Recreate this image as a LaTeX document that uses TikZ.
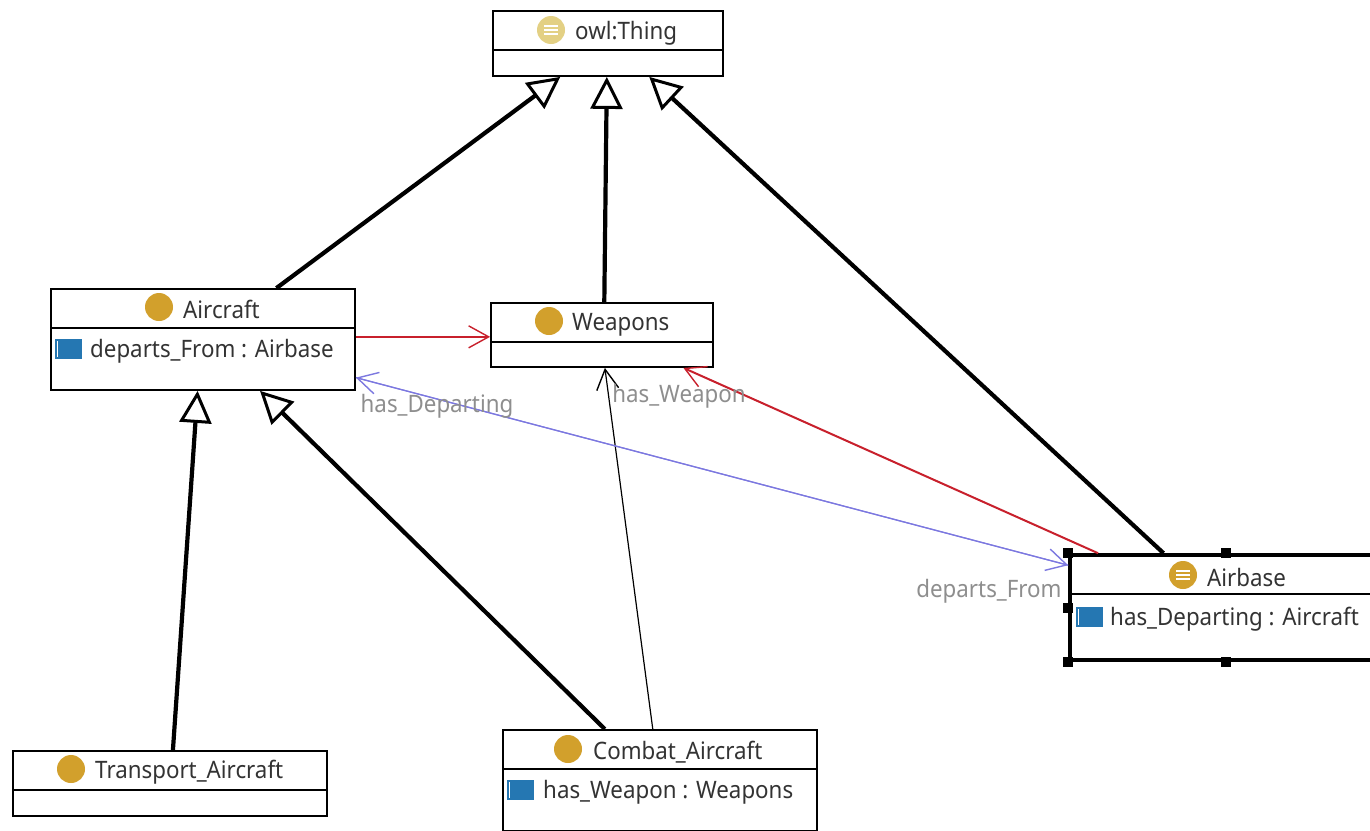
\documentclass[tikz,border=0pt]{standalone}
\usepackage{fontspec}
\usepackage{xcolor}
\setmainfont[FakeStretch=0.93]{Noto Sans}
\usetikzlibrary{positioning,calc,arrows.meta}

\definecolor{icongold}{HTML}{D2A02C}
\definecolor{iconpale}{HTML}{E3D084}
\definecolor{attrblue}{HTML}{2577B2}
\definecolor{labelgray}{HTML}{8E8E8E}
\definecolor{linkred}{HTML}{C8202C}
\definecolor{linkblue}{HTML}{7C78E0}

\tikzset{
    classbox/.style={draw, line width=1.8pt, fill=white, inner sep=0pt},
    titletext/.style={anchor=west, inner sep=0pt, font=\fontsize{24}{28}\selectfont, text=black!80},
    attrtext/.style={anchor=west, inner sep=0pt, font=\fontsize{24}{28}\selectfont, text=black!80},
    linklabel/.style={inner sep=0pt, font=\fontsize{24}{28}\selectfont, text=labelgray},
    classicon/.style={circle, fill=icongold, minimum size=28pt, inner sep=0pt},
    attricon/.style={fill=attrblue, minimum width=27pt, minimum height=20pt, inner sep=0pt},
    handle/.style={fill=black, minimum size=10pt, inner sep=0pt},
    isa/.style={line width=4.2pt, -{Triangle[open, fill=white, length=32pt, width=32pt, line width=3pt]}},
    relation/.style={-{Straight Barb[length=20pt, width=22pt, line width=1.4pt]}}
}

\begin{document}
\begin{tikzpicture}[x=1pt, y=-1pt]
    \useasboundingbox (0,0) rectangle (1370,830);
    \clip (0,0) rectangle (1370,830);
    \fill[white] (0,0) rectangle (1370,830);

    % Classes
    \node[classbox, minimum width=230pt, minimum height=65pt] (thing) at (608,43.5) {};
    \node[classbox, minimum width=304pt, minimum height=101pt] (aircraft) at (203,339.5) {};
    \node[classbox, minimum width=222pt, minimum height=64pt] (weapons) at (602,335) {};
    \node[classbox, line width=3.6pt, minimum width=312pt, minimum height=105pt] (airbase) at (1226,607.5) {};
    \node[classbox, minimum width=314pt, minimum height=65pt] (transport) at (170,783.5) {};
    \node[classbox, minimum width=314pt, minimum height=101pt] (combat) at (660,780.5) {};

    % Compartments
    \draw[line width=1.8pt] ($(thing.north west)+(0,39.5)$) -- ($(thing.north east)+(0,39.5)$);
    \draw[line width=1.8pt] ($(aircraft.north west)+(0,39.5)$) -- ($(aircraft.north east)+(0,39.5)$);
    \draw[line width=1.8pt] ($(weapons.north west)+(0,39.5)$) -- ($(weapons.north east)+(0,39.5)$);
    \draw[line width=1.8pt] ($(airbase.north west)+(0,41)$) -- ($(airbase.north east)+(0,41)$);
    \draw[line width=1.8pt] ($(transport.north west)+(0,39.5)$) -- ($(transport.north east)+(0,39.5)$);
    \draw[line width=1.8pt] ($(combat.north west)+(0,39.5)$) -- ($(combat.north east)+(0,39.5)$);

    % Titles
    \node[classicon, fill=iconpale] (thingicon) at (551,30) {};
    \node[titletext] (thingtitle) at (575,33) {owl:Thing};
    \node[classicon] (aircrafticon) at (159,307) {};
    \node[titletext] (aircrafttitle) at (183,309) {Aircraft};
    \node[classicon] (weaponsicon) at (549,321) {};
    \node[titletext] (weaponstitle) at (572,325) {Weapons};
    \node[classicon] (airbaseicon) at (1183,575) {};
    \node[titletext] (airbasetitle) at (1207,577) {Airbase};
    \node[classicon] (transporticon) at (71,769) {};
    \node[titletext] (transporttitle) at (95,772) {Transport\_Aircraft};
    \node[classicon] (combaticon) at (568,749) {};
    \node[titletext] (combattitle) at (593,752) {Combat\_Aircraft};

    % Lines in the two defined class icons
    \foreach \dy in {-4,0,4} {
        \draw[white, line width=1.4pt] ($(thingicon)+(-7,\dy)$) -- ($(thingicon)+(7,\dy)$);
        \draw[white, line width=1.4pt] ($(airbaseicon)+(-7,\dy)$) -- ($(airbaseicon)+(7,\dy)$);
    }

    % Attributes
    \node[attricon] (departsicon) at (68.5,349) {};
    \node[attrtext] (departstext) at (90,351) {departs\_From : Airbase};
    \node[attricon] (departingicon) at (1089,617) {};
    \node[attrtext] (departingtext) at (1110,619) {has\_Departing : Aircraft};
    \node[attricon] (weaponicon) at (520.5,790) {};
    \node[attrtext] (weapontext) at (543,792) {has\_Weapon : Weapons};
    \draw[white, line width=1.2pt] ($(departsicon.north west)+(3,2)$) -- ($(departsicon.south west)+(3,-2)$);
    \draw[white, line width=1.2pt] ($(departingicon.north west)+(3,2)$) -- ($(departingicon.south west)+(3,-2)$);
    \draw[white, line width=1.2pt] ($(weaponicon.north west)+(3,2)$) -- ($(weaponicon.south west)+(3,-2)$);

    % Selection handles
    \node[handle] (handlenw) at (airbase.north west) {};
    \node[handle] (handlen) at (airbase.north) {};
    \node[handle] (handlew) at (airbase.west) {};
    \node[handle] (handlesw) at (airbase.south west) {};
    \node[handle] (handles) at (airbase.south) {};

    % Subclass links
    \draw[isa] (aircraft.35) -- (thing.215);
    \draw[isa] (weapons.86) -- (thing.268);
    \draw[isa] (airbase.139) -- (thing.321);
    \draw[isa] (transport.85) -- (aircraft.264);
    \draw[isa] (combat.137) -- (aircraft.318);

    % Property links
    \draw[relation, linkred, line width=1.6pt] (aircraft.1.3) -- (aircraft.1.3 -| weapons.west);
    \draw[relation, linkred, line width=2pt] (airbase.157) -- (weapons.338);
    \draw[relation, black, line width=1.2pt] (combat.98) -- (weapons.275);
    \draw[relation, linkblue, line width=1.2pt] (aircraft.346) -- (airbase.165);
    \draw[relation, linkblue, line width=1.2pt] (airbase.165) -- (aircraft.346);

    % Link labels
    \node[linklabel] (departinglabel) at (437,406) {has\_Departing};
    \node[linklabel] (weaponlabel) at (679,396) {has\_Weapon};
    \node[linklabel] (departslabel) at (989,591) {departs\_From};
\end{tikzpicture}
\end{document}
